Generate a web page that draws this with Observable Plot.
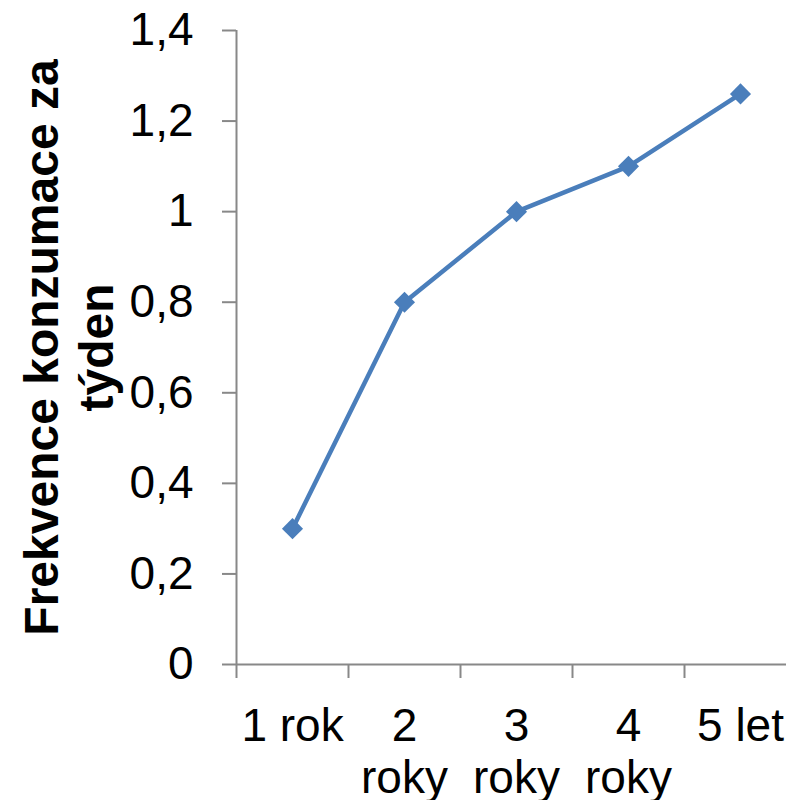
<!DOCTYPE html>
<html>
<head>
<meta charset="utf-8">
<script src="https://cdn.jsdelivr.net/npm/d3@7"></script>
<script src="https://cdn.jsdelivr.net/npm/@observablehq/plot@0.6"></script>
<style>
  html, body { margin: 0; padding: 0; background: #fff; }
</style>
</head>
<body>
<div id="chart"></div>
<script>
const categories = ["1 rok", "2 roky", "3 roky", "4 roky", "5 let"];
const categoryLabels = ["1 rok", "2\nroky", "3\nroky", "4\nroky", "5 let"];
const values = [0.3, 0.8, 1.0, 1.1, 1.26];
const yTicks = [0, 0.2, 0.4, 0.6, 0.8, 1.0, 1.2, 1.4];
const yTitle = "Frekvence konzumace za\ntýden";

const data = categories.map((c, i) => ({cat: c, label: categoryLabels[i], pos: i + 0.5, value: values[i]}));
const bounds = d3.range(categories.length + 1);

const axisColor = "#888888";
const lineColor = "#4A7EBB";

const chart = Plot.plot({
  width: 786,
  height: 800,
  marginLeft: 236,
  marginTop: 30,
  marginBottom: 136,
  marginRight: 0,
  style: {fontFamily: "'Liberation Sans', Arial, sans-serif", background: "#fff", color: "black"},
  x: {domain: [0, categories.length], range: [236, 796]},
  y: {domain: [0, 1.4], range: [664, 30]},
  marks: [
    Plot.ruleX([0], {stroke: axisColor, strokeWidth: 2}),
    Plot.ruleY([0], {stroke: axisColor, strokeWidth: 2}),
    Plot.axisY({
      ticks: yTicks,
      tickSize: 14,
      tickPadding: 29,
      fontSize: 46,
      stroke: axisColor,
      strokeWidth: 2,
      fill: "black",
      label: null,
      tickFormat: d => String(+d.toFixed(1)).replace(".", ",")
    }),
    Plot.axisX({
      ticks: bounds,
      tickSize: 14,
      stroke: axisColor,
      strokeWidth: 2,
      tickFormat: () => "",
      label: null
    }),
    Plot.text(data, {
      x: "pos",
      y: () => 0,
      text: "label",
      fontSize: 46,
      lineAnchor: "top",
      lineHeight: 1.13,
      dy: 40,
      fill: "black"
    }),
    Plot.line(data, {x: "pos", y: "value", stroke: lineColor, strokeWidth: 4.5}),
    Plot.dot(data, {x: "pos", y: "value", symbol: "diamond2", r: 9.5, fill: lineColor, stroke: "none"}),
    Plot.text([yTitle], {
      frameAnchor: "left",
      rotate: -90,
      dx: -169,
      fontSize: 48,
      fontWeight: "bold",
      lineHeight: 1.15,
      textAnchor: "middle",
      lineAnchor: "middle",
      fill: "black"
    })
  ]
});

document.getElementById("chart").appendChild(chart);
</script>
</body>
</html>
